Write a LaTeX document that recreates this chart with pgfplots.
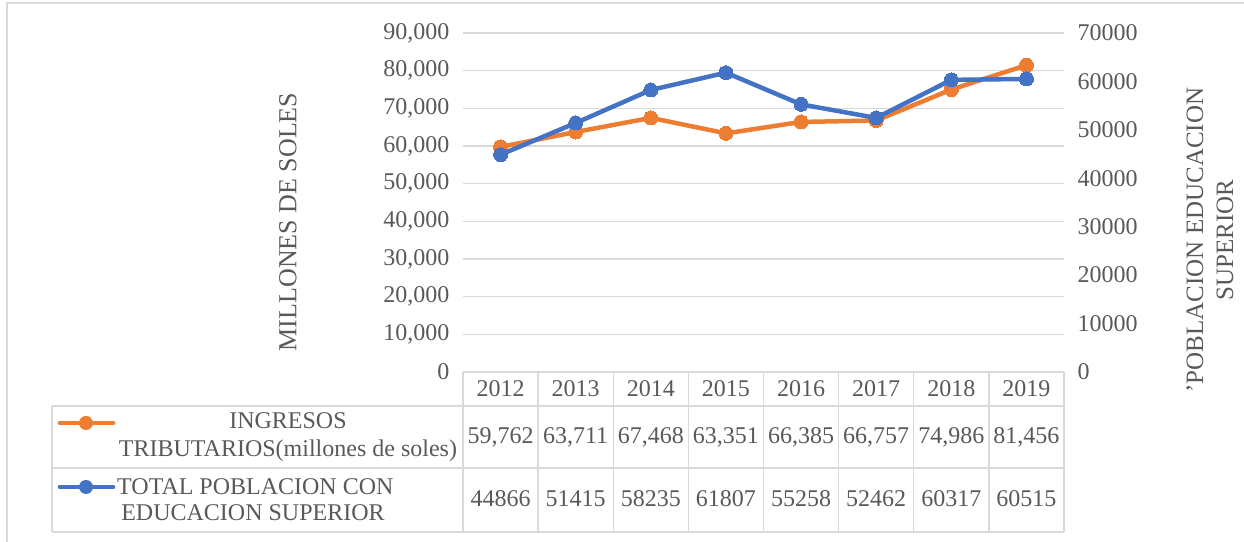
\documentclass[border=0pt]{standalone}
\usepackage{fontspec}
\setmainfont{Liberation Serif}
\usepackage{pgfplots}
\pgfplotsset{compat=1.18}

\definecolor{txt}{HTML}{595959}
\definecolor{gridc}{HTML}{D9D9D9}
\definecolor{orange}{HTML}{ED7D31}
\definecolor{blue}{HTML}{4472C4}

\newcommand{\tf}{\fontsize{24bp}{27bp}\selectfont}

\begin{document}
\begin{tikzpicture}[x=1bp,y=1bp]
\useasboundingbox (0,0) rectangle (1244,542);
% chart frame
\draw[gridc, line width=1.2bp] (7,-20) -- (7,539) -- (1260,539);

\begin{axis}[
  at={(463bp,170bp)}, anchor=south west,
  width=601bp, height=339bp, scale only axis,
  xmin=-0.5, xmax=7.5, ymin=0, ymax=90000,
  xtick=\empty, ytick={0,10000,...,90000},
  axis line style={draw=none}, major tick length=0pt,
  ymajorgrids, grid style={gridc, line width=1.3bp},
  scaled y ticks=false,
  yticklabel style={font=\tf, text=txt, xshift=-10bp,
    /pgf/number format/.cd, fixed, 1000 sep={,}, assume math mode=true},
  clip=false]
\addplot[orange, line width=4.5bp, mark=*, mark size=7bp,
  mark options={fill=orange, draw=orange, line width=0pt}]
  coordinates {(0,59762)(1,63711)(2,67468)(3,63351)(4,66385)(5,66757)(6,74986)(7,81456)};
\end{axis}

\begin{axis}[
  at={(463bp,170bp)}, anchor=south west,
  width=601bp, height=339bp, scale only axis,
  xmin=-0.5, xmax=7.5, ymin=0, ymax=70000,
  axis y line*=right, axis x line=none,
  xtick=\empty, ytick={0,10000,...,70000},
  axis line style={draw=none}, major tick length=0pt,
  scaled y ticks=false,
  yticklabel style={font=\tf, text=txt, xshift=10bp,
    /pgf/number format/.cd, fixed, 1000 sep={}, assume math mode=true},
  clip=false]
\addplot[blue, line width=4.5bp, mark=*, mark size=7bp,
  mark options={fill=blue, draw=blue, line width=0pt}]
  coordinates {(0,44866)(1,51415)(2,58235)(3,61807)(4,55258)(5,52462)(6,60317)(7,60515)};
\end{axis}

% axis titles
\node[rotate=90, text=txt, font=\fontsize{26bp}{29bp}\selectfont] at (288,320) {MILLONES DE SOLES};
\node[rotate=90, text=txt, align=center, font=\fontsize{25bp}{30bp}\selectfont] at (1210,302)
  {’POBLACION EDUCACION\\SUPERIOR};

% data table
\begin{scope}[gridc, line width=1.3bp]
  \draw (463,170) -- (1064,170);
  \draw (52,136) -- (1064,136);
  \draw (52,74) -- (1064,74);
  \draw (52,10) -- (1064,10);
  \draw (52,136) -- (52,10);
  \foreach \k in {0,...,8} \draw (463+75.125*\k,170) -- (463+75.125*\k,10);
\end{scope}
\foreach \yr [count=\i from 0] in {2012,2013,2014,2015,2016,2017,2018,2019}
  \node[text=txt, font=\tf] at (463+75.125*\i+37.56,153) {\yr};
\foreach \v [count=\i from 0] in {59{,}762,63{,}711,67{,}468,63{,}351,66{,}385,66{,}757,74{,}986,81{,}456}
  \node[text=txt, font=\tf] at (463+75.125*\i+37.56,105) {\v};
\foreach \v [count=\i from 0] in {44866,51415,58235,61807,55258,52462,60317,60515}
  \node[text=txt, font=\tf] at (463+75.125*\i+37.56,43) {\v};

% legend keys
\draw[orange, line width=4.7bp, line cap=round] (60,119) -- (113,119);
\fill[orange] (86,119) circle (7bp);
\draw[blue, line width=4.7bp, line cap=round] (60,55) -- (113,55);
\fill[blue] (86,55) circle (7bp);
\node[text=txt, font=\tf] at (288,121) {INGRESOS};
\node[text=txt, font=\tf] at (288,91) {TRIBUTARIOS(millones de soles)};
\node[text=txt, font=\tf, anchor=west, inner sep=0pt] at (117,55) {TOTAL POBLACION CON};
\node[text=txt, font=\tf] at (253,29) {EDUCACION SUPERIOR};
\end{tikzpicture}
\end{document}
